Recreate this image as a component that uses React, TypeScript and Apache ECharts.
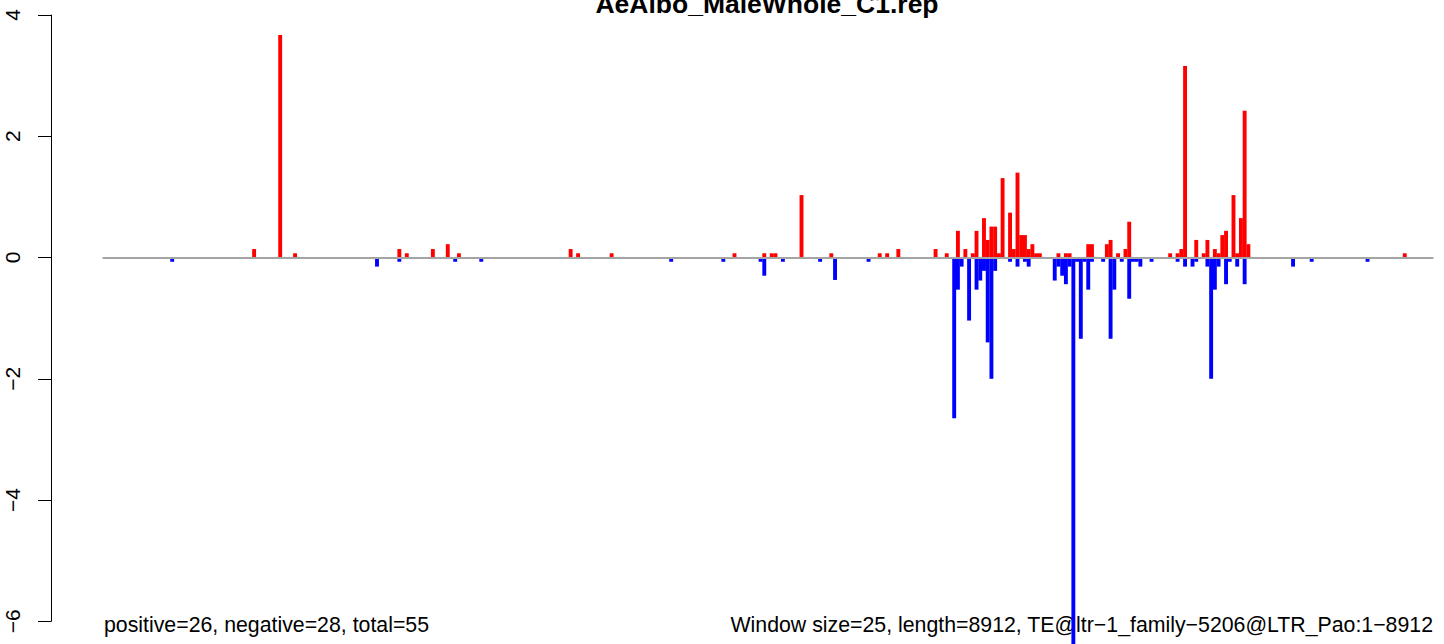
import React, { useEffect, useRef } from "react";
import * as echarts from "echarts";

const chartTitle = "AeAlbo_MaleWhole_C1.rep";
const windowSize = 25;
const seqLength = 8912;
const yMin = -6;
const yMax = 4;
const yStep = 2;
const leftNote = "positive=26, negative=28, total=55";
const rightNote = "Window size=25, length=8912, TE@ltr\u22121_family\u22125206@LTR_Pao:1\u22128912";

// window index (0-based) -> value, forward strand (red)
const posWindows = [
  40, 47, 51, 79, 81, 88, 92, 95, 125, 127, 136, 169, 177, 179, 180, 187, 195, 208, 210, 213,
  223, 226, 229, 231, 233, 234, 236, 237, 238, 239, 240, 241, 243, 244, 245, 246, 247, 248, 249, 250,
  251, 256, 258, 259, 264, 265, 269, 270, 272, 274, 275, 286, 288, 289, 290, 293, 295, 296, 298, 299,
  300, 301, 303, 304, 305, 306, 307, 349,
];
const posValues = [
  0.14, 3.67, 0.07, 0.14, 0.07, 0.14, 0.22, 0.07, 0.14, 0.07, 0.07, 0.07, 0.07, 0.07, 0.07, 1.03, 0.07, 0.07, 0.07, 0.14,
  0.14, 0.07, 0.44, 0.14, 0.07, 0.44, 0.65, 0.29, 0.51, 0.51, 0.07, 1.31, 0.74, 0.14, 1.4, 0.37, 0.37, 0.14, 0.22, 0.07,
  0.07, 0.07, 0.07, 0.07, 0.22, 0.22, 0.22, 0.29, 0.07, 0.14, 0.59, 0.07, 0.07, 0.14, 3.16, 0.29, 0.07, 0.29, 0.14, 0.07,
  0.37, 0.44, 1.03, 0.07, 0.65, 2.42, 0.22, 0.07,
];

// reverse strand (blue)
const negWindows = [
  18, 73, 79, 94, 101, 152, 166, 176, 177, 182, 192, 196, 205, 228, 229, 230, 232, 234, 235, 236,
  237, 238, 239, 243, 245, 247, 248, 255, 256, 257, 258, 259, 260, 261, 262, 263, 264, 265, 268, 270,
  271, 273, 275, 276, 277, 278, 281, 288, 290, 292, 293, 296, 297, 298, 299, 301, 302, 304, 306, 319,
  324, 339,
];
const negValues = [
  -0.07, -0.15, -0.07, -0.07, -0.07, -0.07, -0.07, -0.07, -0.3, -0.07, -0.07, -0.37, -0.07, -2.65, -0.53, -0.15, -1.04, -0.53, -0.38, -0.22,
  -1.4, -2.0, -0.22, -0.07, -0.15, -0.07, -0.15, -0.38, -0.15, -0.3, -0.44, -0.15, -6.6, -0.07, -1.34, -0.07, -0.53, -0.07, -0.07, -1.34,
  -0.53, -0.07, -0.68, -0.07, -0.07, -0.15, -0.07, -0.07, -0.15, -0.15, -0.07, -0.15, -2.0, -0.53, -0.15, -0.44, -0.07, -0.15, -0.44, -0.15,
  -0.07, -0.07,
];

const FONT = "'Liberation Sans', Arial, Helvetica, sans-serif";

export default function App() {
  const ref = useRef<HTMLDivElement>(null);

  useEffect(() => {
    if (!ref.current) return;
    const chart = echarts.init(ref.current, null, { renderer: "svg" });

    const n = Math.ceil(seqLength / windowSize);
    const categories = Array.from({ length: n }, (_, i) => String(i * windowSize + 1));
    const pos: (number | null)[] = new Array(n).fill(null);
    const neg: (number | null)[] = new Array(n).fill(null);
    posWindows.forEach((w, k) => (pos[w] = posValues[k]));
    negWindows.forEach((w, k) => (neg[w] = negValues[k]));

    chart.setOption({
      animation: false,
      textStyle: { fontFamily: FONT },
      grid: {
        left: 103.3,
        right: 11.3,
        top: 15,
        bottom: 22.7,
        containLabel: false,
        outerBoundsMode: "none",
      },
      xAxis: {
        type: "category",
        data: categories,
        z: 10,
        axisLine: { show: true, onZero: true, lineStyle: { color: "#a4a4a4", width: 2 } },
        axisTick: { show: false },
        axisLabel: { show: false },
        splitLine: { show: false },
      },
      yAxis: {
        type: "value",
        min: yMin,
        max: yMax,
        interval: yStep,
        offset: 52.3,
        axisLine: { show: true, lineStyle: { color: "#000", width: 1 } },
        axisTick: { show: true, length: 13, lineStyle: { color: "#000", width: 1 } },
        splitLine: { show: false },
        axisLabel: {
          rotate: 90,
          margin: 28,
          fontSize: 21,
          color: "#000",
          fontFamily: FONT,
          formatter: (v: number) => String(v).replace("-", "\u2212"),
        },
      },
      series: [
        {
          type: "bar",
          data: pos,
          barWidth: 3.9,
          barGap: "-100%",
          clip: false,
          silent: true,
          itemStyle: { color: "#ff0000" },
        },
        {
          type: "bar",
          data: neg,
          barWidth: 3.9,
          barGap: "-100%",
          clip: false,
          silent: true,
          itemStyle: { color: "#0000ff" },
        },
      ],
      graphic: [
        {
          type: "text",
          x: 767,
          y: 3.6,
          silent: true,
          style: {
            text: chartTitle,
            fill: "#000",
            font: `bold 26.5px ${FONT}`,
            textAlign: "center",
            textVerticalAlign: "middle",
          },
        },
        {
          type: "text",
          x: 104,
          y: 624.7,
          silent: true,
          style: {
            text: leftNote,
            fill: "#000",
            font: `21.3px ${FONT}`,
            textAlign: "left",
            textVerticalAlign: "middle",
          },
        },
        {
          type: "text",
          x: 1433,
          y: 624.7,
          silent: true,
          style: {
            text: rightNote,
            fill: "#000",
            font: `21.3px ${FONT}`,
            textAlign: "right",
            textVerticalAlign: "middle",
          },
        },
      ],
    });

    return () => chart.dispose();
  }, []);

  return (
    <div
      ref={ref}
      style={{ position: "fixed", left: 0, top: 0, width: 1444, height: 644, background: "#fff" }}
    />
  );
}
